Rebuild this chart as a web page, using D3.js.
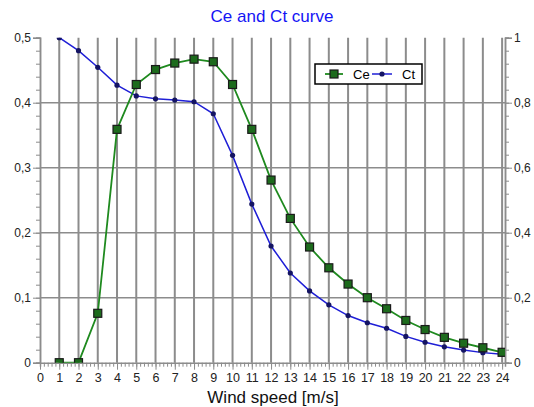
<!DOCTYPE html>
<html>
<head>
<meta charset="utf-8">
<script src="https://cdn.jsdelivr.net/npm/d3@7.9.0/dist/d3.min.js"></script>
<style>
  body { margin: 0; background: #fff; }
  svg { font-family: "Liberation Sans", Arial, sans-serif; }
</style>
</head>
<body>
<svg id="chart" width="534" height="407"></svg>
<script>
// wind speeds (m/s)
const windSpeed = [1, 2, 3, 4, 5, 6, 7, 8, 9, 10, 11, 12, 13, 14, 15, 16, 17, 18, 19, 20, 21, 22, 23, 24];
// Ce on the left axis
const ceValues = [0, 0, 0.076, 0.359, 0.428, 0.451, 0.461, 0.467, 0.463, 0.428, 0.359, 0.281,
  0.222, 0.178, 0.146, 0.121, 0.100, 0.083, 0.065, 0.051, 0.039, 0.030, 0.023, 0.016];
// Ct on the right axis
const ctValues = [1.0, 0.96, 0.909, 0.854, 0.821, 0.812, 0.808, 0.803, 0.766, 0.638, 0.488, 0.359,
  0.276, 0.221, 0.178, 0.145, 0.123, 0.106, 0.081, 0.063, 0.049, 0.039, 0.031, 0.026];
const leftTicks = [0, 0.1, 0.2, 0.3, 0.4, 0.5];
const rightTicks = [0, 0.2, 0.4, 0.6, 0.8, 1];
const xTicks = d3.range(0, 25);

const svg = d3.select('#chart');
const plotL = 40, plotR = 505, plotT = 37.7, plotB = 362.7;

const x = d3.scaleLinear().domain([0, 24.15]).range([plotL, plotR]);
const y = d3.scaleLinear().domain([0, 0.5]).range([plotB, plotT]);
const yR = d3.scaleLinear().domain([0, 1]).range([plotB, plotT]);
const fmt = (d) => String(d).replace('.', ',');
const grey = '#8c8c8c';

// clip for marks
svg.append('clipPath').attr('id', 'plot')
  .append('rect').attr('x', plotL).attr('y', plotT).attr('width', plotR - plotL).attr('height', plotB - plotT);

// grid
const grid = svg.append('g');
grid.selectAll('line.h').data(leftTicks.filter(d => d > 0 && d < 0.5)).join('line')
  .attr('x1', plotL).attr('x2', plotR).attr('y1', d => y(d)).attr('y2', d => y(d))
  .attr('stroke', grey).attr('stroke-width', 1.5);
grid.selectAll('line.v').data(xTicks.filter(d => d > 0)).join('line')
  .attr('x1', d => x(d)).attr('x2', d => x(d)).attr('y1', plotT).attr('y2', plotB)
  .attr('stroke', grey).attr('stroke-width', 2);

// axes
function styleAxis(g) {
  g.select('.domain').attr('stroke', grey).attr('stroke-width', 1.5);
  g.selectAll('.tick line').attr('stroke', grey);
  g.selectAll('.tick text').attr('fill', '#222').attr('font-size', 12);
}

const minorY = d3.range(0, 0.5001, 0.02);
svg.append('g').attr('transform', `translate(${plotL},0)`)
  .call(d3.axisLeft(y).tickValues(minorY).tickSize(4).tickFormat(''))
  .call(styleAxis);
svg.append('g').attr('transform', `translate(${plotL},0)`)
  .call(d3.axisLeft(y).tickValues(leftTicks).tickSize(7).tickPadding(2).tickFormat(fmt))
  .call(styleAxis);

const minorYR = d3.range(0, 1.0001, 0.04);
svg.append('g').attr('transform', `translate(${plotR},0)`)
  .call(d3.axisRight(yR).tickValues(minorYR).tickSize(4).tickFormat(''))
  .call(styleAxis);
svg.append('g').attr('transform', `translate(${plotR},0)`)
  .call(d3.axisRight(yR).tickValues(rightTicks).tickSize(7).tickPadding(2).tickFormat(fmt))
  .call(styleAxis);

const minorX = d3.range(0, 24.01, 0.2);
svg.append('g').attr('transform', `translate(0,${plotB})`)
  .call(d3.axisBottom(x).tickValues(minorX).tickSize(4).tickFormat(''))
  .call(styleAxis);
svg.append('g').attr('transform', `translate(0,${plotB})`)
  .call(d3.axisBottom(x).tickValues(xTicks).tickSize(7).tickPadding(3).tickFormat(d => d))
  .call(g => g.select('.domain').remove())
  .call(styleAxis)
  .call(g => g.selectAll('.tick text').attr('font-size', 12.5));

// series
const ceData = windSpeed.map((w, i) => ({ w, v: ceValues[i] }));
const ctData = windSpeed.map((w, i) => ({ w, v: ctValues[i] }));

const marks = svg.append('g').attr('clip-path', 'url(#plot)');
const ceLine = d3.line().x(d => x(d.w)).y(d => y(d.v));
const ctLine = d3.line().x(d => x(d.w)).y(d => yR(d.v));

marks.append('path').attr('d', ctLine(ctData)).attr('fill', 'none')
  .attr('stroke', '#1f1fd6').attr('stroke-width', 1.5);
marks.append('path').attr('d', ceLine(ceData)).attr('fill', 'none')
  .attr('stroke', '#1f8a1f').attr('stroke-width', 1.8);

marks.selectAll('circle.ct').data(ctData).join('circle')
  .attr('cx', d => x(d.w)).attr('cy', d => yR(d.v)).attr('r', 2.6)
  .attr('fill', '#141463');
marks.selectAll('rect.ce').data(ceData).join('rect')
  .attr('x', d => x(d.w) - 4).attr('y', d => y(d.v) - 4).attr('width', 8).attr('height', 8)
  .attr('fill', '#1d6b1d').attr('stroke', '#1a1a1a').attr('stroke-width', 1.2);

// legend
const lg = svg.append('g').attr('transform', 'translate(315,64)');
lg.append('rect').attr('width', 107).attr('height', 20)
  .attr('fill', '#fff').attr('stroke', '#000').attr('stroke-width', 1.5);
lg.append('line').attr('x1', 10).attr('x2', 28).attr('y1', 10).attr('y2', 10)
  .attr('stroke', '#1f8a1f').attr('stroke-width', 1.8);
lg.append('rect').attr('x', 15).attr('y', 6).attr('width', 8).attr('height', 8)
  .attr('fill', '#1d6b1d').attr('stroke', '#1a1a1a').attr('stroke-width', 1.2);
lg.append('text').attr('x', 38).attr('y', 14.5).attr('font-size', 13).text('Ce');
lg.append('line').attr('x1', 57).attr('x2', 77).attr('y1', 10).attr('y2', 10)
  .attr('stroke', '#1f1fd6').attr('stroke-width', 1.5);
lg.append('circle').attr('cx', 67).attr('cy', 10).attr('r', 2.6).attr('fill', '#141463');
lg.append('text').attr('x', 87).attr('y', 14.5).attr('font-size', 13).text('Ct');

// titles
svg.append('text').attr('x', 272).attr('y', 22).attr('text-anchor', 'middle')
  .attr('font-size', 17).attr('fill', '#1414f5').text('Ce and Ct curve');
svg.append('text').attr('x', 273).attr('y', 403).attr('text-anchor', 'middle')
  .attr('font-size', 17).attr('fill', '#111').text('Wind speed [m/s]');
</script>
</body>
</html>
